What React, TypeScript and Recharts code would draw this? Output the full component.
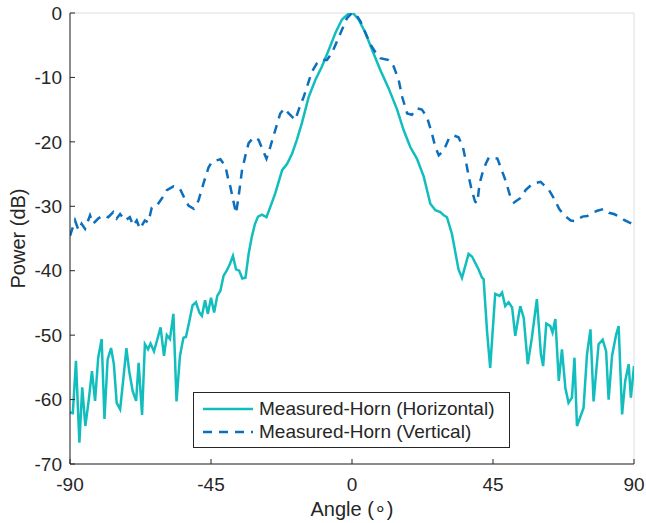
import React from "react"
import { CartesianGrid, Label, Legend, Line, LineChart, XAxis, YAxis } from "recharts"

// horizontal polarisation (angle in degrees, power in dB)
const hAngle = [
    -90, -89.1, -88.1, -87, -86.1, -85.1, -84, -83, -82, -81, -79.9, -79, -78, -76.9, -76, -75.1, -74, -73, -72, -71.1,
    -70, -68.9, -68.1, -67, -66.1, -65.1, -64.3, -63.2, -62.1, -61.1, -60, -59.1, -58.1, -57, -56, -54.9, -53.8, -53, -51.9,
    -50.9, -49.8, -48.7, -47.9, -46.9, -46, -45, -44, -43, -42, -41, -40, -39, -38, -37, -36, -35, -34, -33, -32, -31, -30,
    -28.7, -27.3, -26.3, -24.5, -22.3, -20.7, -19.1, -17.6, -16, -13.8, -11.7, -9.6, -7.4, -5.3, -3.2, -1.1, 0, 0.5, 2.1,
    4.3, 6.4, 9, 11.7, 14.4, 16.5, 18.6, 20.7, 22.9, 25, 26.6, 28.2, 29.3, 30.3, 31.9, 34, 35.1, 37.2, 38.3, 40.4, 41.5, 42,
    43.1, 44.1, 45.7, 47.1, 47.9, 48.9, 50, 51.1, 52.1, 53.7, 54.8, 56.1, 57.4, 59, 60.3, 61, 62, 63.3, 64, 64.9, 66, 67,
    68.1, 69.1, 70.2, 71, 71.8, 73.9, 75, 76.1, 77.1, 78.7, 80, 81.1, 81.9, 83, 84.3, 85.1, 86.2, 87.2, 88.3, 89, 90,
]
const hPower = [
    -62, -62.1, -54, -66.7, -58.1, -64.1, -60, -55.6, -60.2, -53.5, -50.6, -63, -53.8, -52, -54.5, -60.5, -61.5, -56.9, -52,
    -55.6, -58.7, -60.2, -54.3, -62.4, -51.4, -52.2, -51.3, -52.5, -50.6, -48.8, -53.2, -50, -50.6, -46.7, -60.3, -53.2,
    -50.4, -50.3, -47.8, -45.4, -44.9, -46.5, -47, -44.6, -46.7, -44.2, -46.5, -43.9, -43.1, -40.8, -40, -39, -37.7, -39.8,
    -40, -41.2, -41.1, -37.4, -34.8, -32.8, -31.6, -31.3, -31.7, -30.4, -28, -24.4, -23.4, -21.8, -19.7, -17.1, -13, -10.4,
    -8.3, -5.7, -3.1, -1, -0.1, 0, -0.1, -1, -3.1, -5.7, -8.8, -11.7, -15, -18.2, -20.8, -22.6, -25.4, -29.6, -30.6, -30.9,
    -31.4, -31.7, -34.3, -39.8, -41.1, -37.4, -37.8, -39.8, -41.1, -41.3, -49.4, -55.1, -43.6, -43.9, -43.4, -45.5, -44.9,
    -45.7, -50.1, -45.5, -47.3, -54.5, -50.4, -44.4, -53, -54.8, -48.2, -48.6, -49.6, -47.5, -57.1, -52.2, -58.2, -60.5,
    -59.7, -53.5, -64.1, -61.3, -53, -49.1, -60.3, -51.4, -50.7, -52.5, -60, -53.2, -49.9, -48.6, -62.3, -57.1, -54.5,
    -59.7, -54.8,
]

// vertical polarisation
const vAngle = [
    -90, -88.4, -87.3, -86.3, -85.2, -83.6, -82.6, -81, -79.4, -77.8, -76.2, -75.1, -74, -72.4, -70.9, -69.8, -68.7, -67.7,
    -66.1, -65, -63.9, -62.3, -60.7, -59.1, -57, -54.9, -53.3, -52.2, -50.5, -49, -47.3, -45.8, -44.7, -42, -40.4, -39.5,
    -38.8, -37.9, -37, -36.2, -35.1, -34, -33, -31.4, -29.8, -28.7, -27.3, -26.1, -24.5, -22.9, -21.6, -20.2, -18.1, -17,
    -15.4, -13.8, -12.8, -11.2, -10.1, -8, -6.4, -4.8, -3.2, -1.6, 0, 1.1, 2.7, 4.3, 5.9, 8, 9, 11.7, 13.3, 14.9, 16, 17.6,
    19.1, 20.7, 22.3, 23.9, 25.5, 26.6, 27.7, 29.3, 30.9, 32.4, 34, 35.4, 36.3, 37.3, 38.2, 39.3, 40, 40.7, 41.6, 42.7, 43.7,
    46.4, 47.4, 49, 50.6, 51.7, 53.8, 55.4, 57.6, 60.2, 62.9, 64.5, 66.1, 67.7, 69.8, 71.4, 73.5, 75.1, 76.7, 78.3, 80.4, 82,
    83.6, 85.2, 86.8, 88.4, 90,
]
const vPower = [
    -34.6, -32.2, -33.7, -32.7, -33.5, -31.4, -32.7, -31.9, -31.4, -31.7, -30.9, -31.9, -31.2, -32.2, -31.7, -33, -32.2,
    -33.5, -32.2, -32.5, -30.2, -29.9, -28.8, -27.5, -26.9, -27.3, -28.9, -29.9, -30.4, -29.1, -26.3, -24, -23.1, -22.7,
    -23.8, -25.8, -27, -29.1, -31.1, -28.5, -24.4, -22.1, -20.2, -19.3, -19.7, -21, -22.6, -20.8, -18.2, -15.6, -14.8,
    -15.6, -16.6, -15, -13, -10.6, -9.1, -7.8, -7.3, -7.3, -6.2, -4.4, -2.6, -0.8, 0, -0.1, -1.3, -3.1, -4.9, -6.5, -7,
    -7.3, -8.3, -10.4, -13, -15.6, -15.8, -14.8, -15, -16.1, -18.7, -20.8, -22.1, -21.3, -19.5, -19, -19.3, -20.8, -22.9,
    -25.5, -27.5, -29.3, -29.5, -26.5, -24.9, -23.4, -22.4, -22.6, -23.9, -26, -28.6, -29.4, -28.7, -27.5, -26.5, -26.2,
    -27.5, -28.8, -30.4, -31.4, -32.2, -32.3, -31.6, -31.5, -31, -30.7, -30.4, -31, -31.2, -31.6, -32.1, -32.5, -32.8,
]

const xTicks = [-90, -45, 0, 45, 90]
const yTicks = [-70, -60, -50, -40, -30, -20, -10, 0]

const horizontal = hAngle.map((a, i) => ({ angle: a, power: hPower[i] }))
const vertical = vAngle.map((a, i) => ({ angle: a, power: vPower[i] }))

const FONT = "'Liberation Sans', Arial, Helvetica, sans-serif"
const INK = "#262626"
const H_COLOR = "#12bdbd"
const V_COLOR = "#0b6fbd"

const tickStyle = { fontSize: 19, fill: INK, fontFamily: FONT }

function YTitle(props: any) {
    const { viewBox } = props
    const cx = viewBox.x + 8
    const cy = viewBox.y + viewBox.height / 2
    return (
        <text x={cx} y={cy} transform={`rotate(-90 ${cx} ${cy})`} textAnchor="middle" dominantBaseline="central"
            fontSize={20} fill={INK} fontFamily={FONT}>
            Power (dB)
        </text>
    )
}

function LegendBox() {
    const row = (color: string, dashed: boolean, text: string) => (
        <div style={{ display: "flex", alignItems: "center", height: 23 }}>
            <svg width={56} height={10} style={{ marginLeft: 9 }}>
                <line x1={0} y1={5} x2={50} y2={5} stroke={color} strokeWidth={2.5}
                    strokeDasharray={dashed ? "9 7" : undefined} />
            </svg>
            <span style={{ whiteSpace: "nowrap" }}>{text}</span>
        </div>
    )
    return (
        <div style={{
            border: `1px solid ${INK}`, background: "#fff", fontFamily: FONT, fontSize: 19, color: INK,
            boxSizing: "border-box", width: 317, height: 56, paddingTop: 4, lineHeight: "23px",
        }}>
            {row(H_COLOR, false, "Measured-Horn (Horizontal)")}
            {row(V_COLOR, true, "Measured-Horn (Vertical)")}
        </div>
    )
}

export default function App() {
    return (
        <div style={{ position: "fixed", left: 0, top: 0, width: 646, height: 523, background: "#fff" }}>
            <LineChart width={646} height={523} margin={{ top: 13, right: 12, bottom: 0, left: 10 }}>
                <CartesianGrid stroke="#dedede" strokeWidth={1} />
                <XAxis
                    xAxisId="b"
                    type="number"
                    dataKey="angle"
                    domain={[-90, 90]}
                    ticks={xTicks}
                    allowDataOverflow
                    height={59}
                    stroke={INK}
                    tickSize={-5}
                    tickMargin={19}
                    tick={tickStyle}
                >
                    <Label value="Angle (∘)" position="insideBottom" offset={7}
                        style={{ fontSize: 20, fill: INK, fontFamily: FONT }} />
                </XAxis>
                <XAxis
                    xAxisId="t"
                    orientation="top"
                    type="number"
                    dataKey="angle"
                    domain={[-90, 90]}
                    ticks={xTicks}
                    height={0}
                    stroke={INK}
                    tickSize={-5}
                    tick={false}
                />
                <YAxis
                    yAxisId="l"
                    type="number"
                    domain={[-70, 0]}
                    ticks={yTicks}
                    allowDataOverflow
                    width={60}
                    stroke={INK}
                    tickSize={-5}
                    tickMargin={13}
                    tick={tickStyle}
                    label={{ value: "Power (dB)", position: "insideLeft", content: YTitle }}
                />
                <YAxis
                    yAxisId="r"
                    orientation="right"
                    type="number"
                    domain={[-70, 0]}
                    ticks={yTicks}
                    width={0}
                    stroke={INK}
                    tickSize={-5}
                    tick={false}
                />
                <Line
                    xAxisId="b"
                    yAxisId="l"
                    data={horizontal}
                    dataKey="power"
                    type="linear"
                    stroke={H_COLOR}
                    strokeWidth={2.5}
                    dot={false}
                    isAnimationActive={false}
                />
                <Line
                    xAxisId="b"
                    yAxisId="l"
                    data={vertical}
                    dataKey="power"
                    type="linear"
                    stroke={V_COLOR}
                    strokeWidth={2.5}
                    strokeDasharray="9 7"
                    dot={false}
                    isAnimationActive={false}
                />
                <Legend
                    layout="horizontal"
                    verticalAlign="middle"
                    align="center"
                    content={() => <LegendBox />}
                    wrapperStyle={{ left: 193, top: 392, bottom: "auto", width: 317, height: 56 }}
                />
            </LineChart>
        </div>
    )
}
